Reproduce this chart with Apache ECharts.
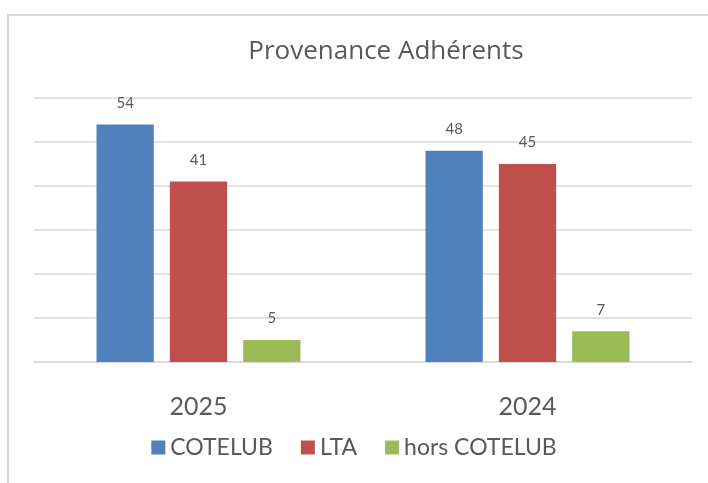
<!DOCTYPE html>
<html>
<head>
<meta charset="utf-8">
<script src="https://cdn.jsdelivr.net/npm/echarts@6/dist/echarts.min.js"></script>
<style>
  html, body { margin: 0; padding: 0; background: #fff; }
  #chart { width: 708px; height: 483px; }
</style>
</head>
<body>
<div id="chart"></div>
<script>
// Provenance des adhérents, 2025 vs 2024
const years = ['2025', '2024']
const cotelub = [54, 48]
const lta = [41, 45]
const horsCotelub = [5, 7]

const FONT = 'Lato, "Open Sans", sans-serif'
const TEXT = '#595959'
const GRID = '#d9d9d9'

const chart = echarts.init(document.getElementById('chart'))

function barSeries(name, data, color) {
  return {
    name: name,
    type: 'bar',
    data: data,
    barGap: '28%',
    barCategoryGap: '38%',
    itemStyle: { color: color },
    label: {
      show: true,
      position: 'top',
      distance: 14,
      color: TEXT,
      fontFamily: FONT,
      fontSize: 15
    }
  }
}

chart.setOption({
  animation: false,
  title: {
    text: 'Provenance Adhérents',
    left: 381,
    textAlign: 'center',
    top: 34,
    textStyle: { color: TEXT, fontFamily: '"Open Sans", Lato, sans-serif', fontWeight: 'normal', fontSize: 26 }
  },
  graphic: [{
    type: 'rect',
    shape: { x: 8, y: 15, width: 760, height: 520 },
    style: { fill: null, stroke: GRID, lineWidth: 2 },
    silent: true
  }],
  grid: { left: 34, right: 16, top: 98, bottom: 121 },
  legend: {
    bottom: 19,
    left: 'center',
    icon: 'rect',
    itemWidth: 14,
    itemHeight: 14,
    itemGap: 28,
    textStyle: { color: TEXT, fontFamily: FONT, fontSize: 23 }
  },
  xAxis: {
    type: 'category',
    data: years,
    axisLine: { lineStyle: { color: GRID, width: 1.5 } },
    axisTick: { show: false },
    axisLabel: { color: TEXT, fontFamily: FONT, fontSize: 25, margin: 32 }
  },
  yAxis: {
    type: 'value',
    min: 0,
    max: 60,
    interval: 10,
    axisLabel: { show: false },
    axisLine: { show: false },
    axisTick: { show: false },
    splitLine: { lineStyle: { color: GRID, width: 1.5 } }
  },
  series: [
    barSeries('COTELUB', cotelub, '#4f81bd'),
    barSeries('LTA', lta, '#c0504d'),
    barSeries('hors COTELUB', horsCotelub, '#9bbb59')
  ]
})
</script>
</body>
</html>
